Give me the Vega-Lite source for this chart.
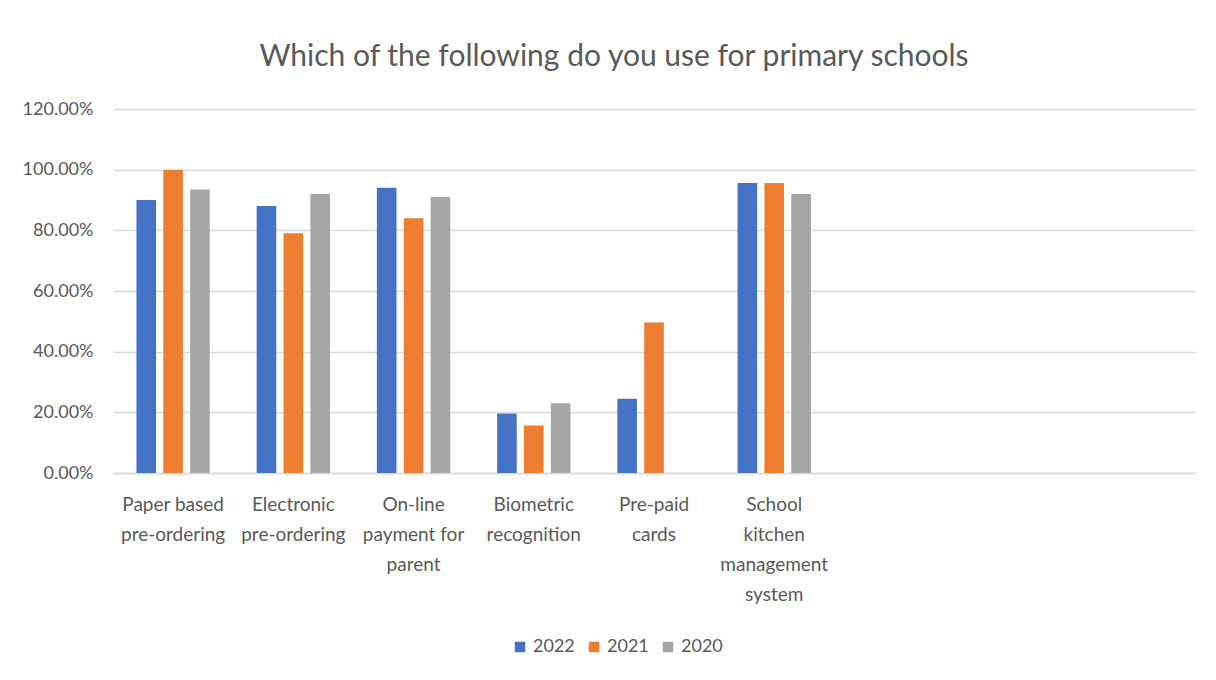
{
  "$schema": "https://vega.github.io/schema/vega-lite/v6.json",
  "width": 1082,
  "height": 364,
  "autosize": {"type": "none"},
  "padding": {"left": 113, "top": 109, "right": 21, "bottom": 207},
  "background": "white",
  "title": {
    "text": "Which of the following do you use for primary schools",
    "font": "Lato",
    "fontSize": 30,
    "fontWeight": "normal",
    "color": "#595959",
    "anchor": "middle",
    "dx": -40,
    "offset": 28
  },
  "data": {
    "values": [
      {"category": "Paper based pre-ordering", "year": "2022", "value": 0.90},
      {"category": "Paper based pre-ordering", "year": "2021", "value": 1.00},
      {"category": "Paper based pre-ordering", "year": "2020", "value": 0.935},
      {"category": "Electronic pre-ordering", "year": "2022", "value": 0.88},
      {"category": "Electronic pre-ordering", "year": "2021", "value": 0.79},
      {"category": "Electronic pre-ordering", "year": "2020", "value": 0.92},
      {"category": "On-line payment for parent", "year": "2022", "value": 0.94},
      {"category": "On-line payment for parent", "year": "2021", "value": 0.84},
      {"category": "On-line payment for parent", "year": "2020", "value": 0.91},
      {"category": "Biometric recognition", "year": "2022", "value": 0.196},
      {"category": "Biometric recognition", "year": "2021", "value": 0.157},
      {"category": "Biometric recognition", "year": "2020", "value": 0.23},
      {"category": "Pre-paid cards", "year": "2022", "value": 0.245},
      {"category": "Pre-paid cards", "year": "2021", "value": 0.496},
      {"category": "School kitchen management system", "year": "2022", "value": 0.956},
      {"category": "School kitchen management system", "year": "2021", "value": 0.956},
      {"category": "School kitchen management system", "year": "2020", "value": 0.92}
    ]
  },
  "mark": {"type": "bar"},
  "encoding": {
    "x": {
      "field": "category",
      "type": "nominal",
      "sort": null,
      "scale": {
        "domain": ["Paper based pre-ordering", "Electronic pre-ordering", "On-line payment for parent", "Biometric recognition", "Pre-paid cards", "School kitchen management system", " ", "  ", "   "],
        "paddingInner": 0.39,
        "paddingOuter": 0.195
      },
      "axis": {
        "title": null,
        "labelAngle": 0,
        "labelFont": "Lato",
        "labelFontSize": 19,
        "labelColor": "#595959",
        "labelLineHeight": 30,
        "labelPadding": 22,
        "labelBaseline": "top",
        "ticks": false,
        "domainColor": "#d9d9d9",
        "domainWidth": 1.5,
        "labelLimit": 0,
        "labelExpr": "datum.value == 'Paper based pre-ordering' ? ['Paper based', 'pre-ordering'] : datum.value == 'Electronic pre-ordering' ? ['Electronic', 'pre-ordering'] : datum.value == 'On-line payment for parent' ? ['On-line', 'payment for', 'parent'] : datum.value == 'Biometric recognition' ? ['Biometric', 'recognition'] : datum.value == 'Pre-paid cards' ? ['Pre-paid', 'cards'] : datum.value == 'School kitchen management system' ? ['School', 'kitchen', 'management', 'system'] : ''"
      }
    },
    "xOffset": {
      "field": "year",
      "type": "nominal",
      "sort": ["2022", "2021", "2020"],
      "scale": {"paddingInner": 0.27, "paddingOuter": 0}
    },
    "y": {
      "field": "value",
      "type": "quantitative",
      "scale": {"domain": [0, 1.2], "nice": false},
      "axis": {
        "title": null,
        "values": [0, 0.2, 0.4, 0.6, 0.8, 1.0, 1.2],
        "format": ".2%",
        "labelFont": "Lato",
        "labelFontSize": 18,
        "labelColor": "#595959",
        "labelPadding": 20,
        "ticks": false,
        "domain": false,
        "gridColor": "#d9d9d9",
        "gridWidth": 1.5
      }
    },
    "color": {
      "field": "year",
      "type": "nominal",
      "sort": ["2022", "2021", "2020"],
      "scale": {"domain": ["2022", "2021", "2020"], "range": ["#4472C4", "#ED7D31", "#A5A5A5"]},
      "legend": {
        "title": null,
        "orient": "none",
        "direction": "horizontal",
        "legendX": 398,
        "legendY": 529,
        "symbolType": "square",
        "symbolSize": 110,
        "symbolStrokeWidth": 0,
        "labelFont": "Lato",
        "labelFontSize": 18,
        "labelColor": "#595959",
        "labelOffset": 4,
        "columnPadding": 10
      }
    }
  },
  "config": {
    "view": {"stroke": null}
  }
}
